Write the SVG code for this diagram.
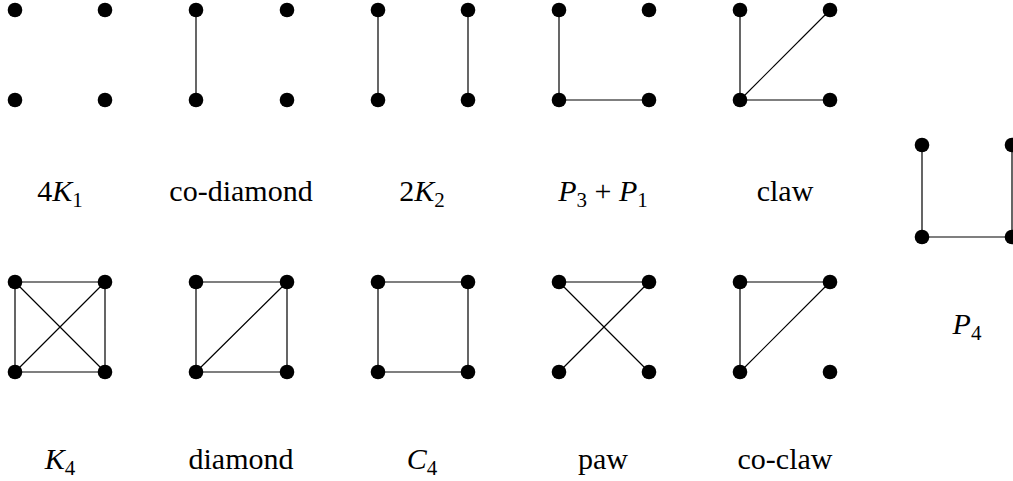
<svg xmlns="http://www.w3.org/2000/svg" width="1013" height="481" viewBox="0 0 1013 481">
<style>
.e{stroke:#000;stroke-width:1.2;fill:none}
.n{fill:#000}
.t{font-family:"Liberation Serif","DejaVu Serif",serif;font-size:30px;fill:#000;text-anchor:middle}
.i{font-style:italic}
.s{font-size:21px}
</style>
<defs><circle id="v" r="7.3" class="n"/></defs>
<g id="edges">
<line class="e" x1="196" y1="10" x2="196" y2="100"/>
<line class="e" x1="378" y1="10" x2="378" y2="100"/>
<line class="e" x1="468" y1="10" x2="468" y2="100"/>
<line class="e" x1="559" y1="10" x2="559" y2="100"/>
<line class="e" x1="559" y1="100" x2="649" y2="100"/>
<line class="e" x1="740" y1="10" x2="740" y2="100"/>
<line class="e" x1="740" y1="100" x2="830" y2="10"/>
<line class="e" x1="740" y1="100" x2="830" y2="100"/>
<path class="e" d="M15,282H105V372H15Z M15,282L105,372 M15,372L105,282"/>
<path class="e" d="M196,282H287V372H196Z M196,372L287,282"/>
<path class="e" d="M378,282H468V372H378Z"/>
<path class="e" d="M559,282H649 M559,282L649,372 M559,372L649,282"/>
<path class="e" d="M740,372V282H830 M740,372L830,282"/>
<path class="e" d="M922,145V237H1012V145"/>
</g>
<g id="g-4K1"><use href="#v" x="15" y="10"/><use href="#v" x="105" y="10"/><use href="#v" x="15" y="100"/><use href="#v" x="105" y="100"/>
<text class="t" x="60" y="201">4<tspan class="i">K</tspan><tspan class="s" dy="6">1</tspan></text></g>
<g id="g-codiamond"><use href="#v" x="196" y="10"/><use href="#v" x="287" y="10"/><use href="#v" x="196" y="100"/><use href="#v" x="287" y="100"/>
<text class="t" x="241" y="201">co-diamond</text></g>
<g id="g-2K2"><use href="#v" x="378" y="10"/><use href="#v" x="468" y="10"/><use href="#v" x="378" y="100"/><use href="#v" x="468" y="100"/>
<text class="t" x="422" y="201">2<tspan class="i">K</tspan><tspan class="s" dy="6">2</tspan></text></g>
<g id="g-P3P1"><use href="#v" x="559" y="10"/><use href="#v" x="649" y="10"/><use href="#v" x="559" y="100"/><use href="#v" x="649" y="100"/>
<text class="t" x="603" y="201"><tspan class="i">P</tspan><tspan class="s" dy="6">3</tspan><tspan dy="-6"> + </tspan><tspan class="i">P</tspan><tspan class="s" dy="6">1</tspan></text></g>
<g id="g-claw"><use href="#v" x="740" y="10"/><use href="#v" x="830" y="10"/><use href="#v" x="740" y="100"/><use href="#v" x="830" y="100"/>
<text class="t" x="785" y="201">claw</text></g>
<g id="g-K4"><use href="#v" x="15" y="282"/><use href="#v" x="105" y="282"/><use href="#v" x="15" y="372"/><use href="#v" x="105" y="372"/>
<text class="t" x="60" y="469"><tspan class="i">K</tspan><tspan class="s" dy="6">4</tspan></text></g>
<g id="g-diamond"><use href="#v" x="196" y="282"/><use href="#v" x="287" y="282"/><use href="#v" x="196" y="372"/><use href="#v" x="287" y="372"/>
<text class="t" x="241" y="469">diamond</text></g>
<g id="g-C4"><use href="#v" x="378" y="282"/><use href="#v" x="468" y="282"/><use href="#v" x="378" y="372"/><use href="#v" x="468" y="372"/>
<text class="t" x="422" y="469"><tspan class="i">C</tspan><tspan class="s" dy="6">4</tspan></text></g>
<g id="g-paw"><use href="#v" x="559" y="282"/><use href="#v" x="649" y="282"/><use href="#v" x="559" y="372"/><use href="#v" x="649" y="372"/>
<text class="t" x="603" y="469">paw</text></g>
<g id="g-coclaw"><use href="#v" x="740" y="282"/><use href="#v" x="830" y="282"/><use href="#v" x="740" y="372"/><use href="#v" x="830" y="372"/>
<text class="t" x="785" y="469">co-claw</text></g>
<g id="g-P4"><use href="#v" x="922" y="145"/><use href="#v" x="1012" y="145"/><use href="#v" x="922" y="237"/><use href="#v" x="1012" y="237"/>
<text class="t" x="967" y="334"><tspan class="i">P</tspan><tspan class="s" dy="6">4</tspan></text></g>
</svg>
